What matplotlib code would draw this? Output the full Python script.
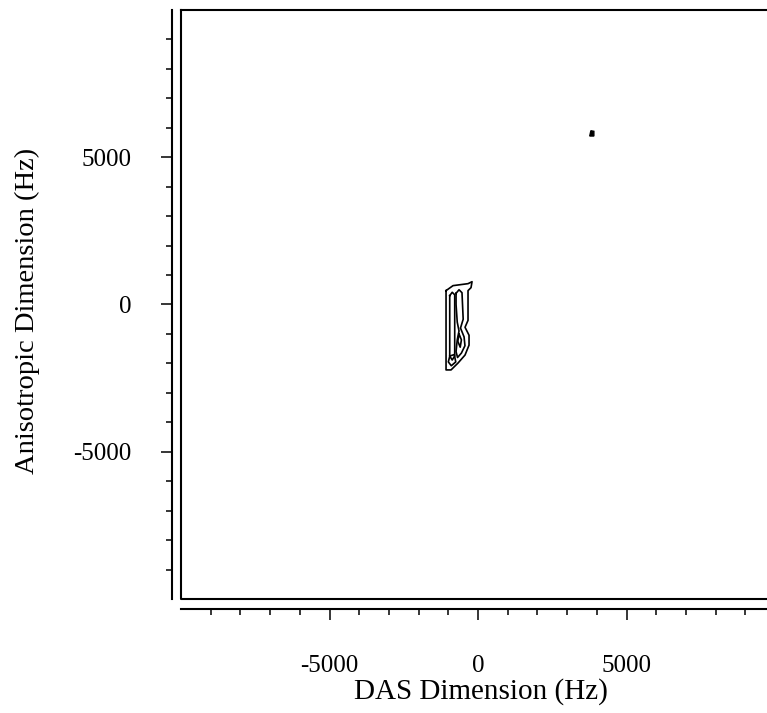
import numpy as np
from matplotlib import pyplot as plt
from matplotlib.ticker import FixedLocator

# Contour outlines (Hz)
# outer contour level
outer_x = [-1077, -842, -337, -202, -236, -337, -337, -438, -303, -303, -438, -673, -909, -1077, -1077]
outer_y = [471, 640, 707, 774, 572, 471, -539, -774, -1044, -1380, -1717, -1987, -2222, -2222, 471]
# narrow left loop
left_x = [-953, -870, -785, -785, -870, -953, -953]
left_y = [300, 414, 330, -1750, -1886, -1750, 300]
# right figure-eight loop
right_x = [-740, -640, -540, -500, -590, -470, -440, -560, -690, -740, -700, -640, -700, -740, -740]
right_y = [380, 500, 400, -500, -800, -1100, -1400, -1650, -1800, -1600, -1200, -900, -600, 0, 380]
# small inner loop in the lower lobe
inner_x = [-640, -560, -600, -680, -640]
inner_y = [-1000, -1200, -1450, -1250, -1000]
# blob at bottom-left
blob_x = [-950, -800, -750, -900, -1000, -950]
blob_y = [-1750, -1700, -1950, -2080, -1950, -1750]
# isolated peak
dot_x = [3760, 3900, 3900, 3800, 3760]
dot_y = [5720, 5720, 5880, 5900, 5720]

contours = [(outer_x, outer_y), (left_x, left_y), (right_x, right_y),
            (inner_x, inner_y), (blob_x, blob_y)]

major_ticks = [-5000, 0, 5000]
minor_ticks = [v for v in range(-9000, 10000, 1000) if v not in major_ticks]
lim = (-10000, 10000)

plt.rcParams['font.family'] = ['Liberation Serif', 'DejaVu Serif']
plt.rcParams['axes.unicode_minus'] = False

fig = plt.figure(figsize=(7.67, 7.13), dpi=100)
ax = fig.add_axes([0.236, 0.1599, 0.7745, 0.8261])

for cx, cy in contours:
    ax.plot(cx, cy, color='black', linewidth=1.2)
ax.fill(dot_x, dot_y, color='black', linewidth=1.0)

ax.set_xlim(lim)
ax.set_ylim(lim)

# box frame, plus separate offset axis lines
for s in ['top', 'right']:
    ax.spines[s].set_linewidth(1.5)
ax.spines['left'].set_position(('outward', 6.5))
ax.spines['bottom'].set_position(('outward', 7.2))
ax.spines['left'].set_linewidth(1.5)
ax.spines['bottom'].set_linewidth(1.5)
ax.plot([0, 0, 1], [1, 0, 0], transform=ax.transAxes, color='black',
        linewidth=1.5, clip_on=False)

ax.xaxis.set_major_locator(FixedLocator(major_ticks))
ax.yaxis.set_major_locator(FixedLocator(major_ticks))
ax.xaxis.set_minor_locator(FixedLocator(minor_ticks))
ax.yaxis.set_minor_locator(FixedLocator(minor_ticks))
ax.tick_params(which='major', direction='out', length=8, width=1.1, labelsize=18)
ax.tick_params(which='minor', direction='out', length=4.3, width=1.1)
ax.tick_params(axis='y', which='major', pad=21)
ax.tick_params(axis='x', which='major', pad=25)

ax.set_xlabel('DAS Dimension (Hz)', fontsize=21)
ax.set_ylabel('Anisotropic Dimension (Hz)', fontsize=20.5)
ax.xaxis.set_label_coords(0.505, -0.135)
ax.yaxis.set_label_coords(-0.238, 0.489)

fig.savefig('out.png', dpi=100)
